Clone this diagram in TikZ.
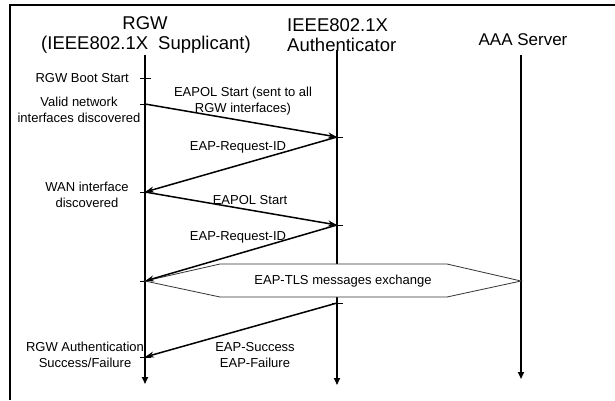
\documentclass[tikz,border=0pt]{standalone}
\usepackage{fontspec}
\setmainfont{Liberation Sans}
\usetikzlibrary{arrows.meta}
\begin{document}
\begin{tikzpicture}[x=1pt,y=-1pt,
  life/.style={line width=1.6pt,-{Triangle[length=7pt,width=6pt]}},
  msg/.style={line width=1.5pt,-{Stealth[length=9pt,width=6pt]}},
  tickmark/.style={line width=1pt},
  big/.style={font=\fontsize{18.5}{20}\selectfont, inner sep=0pt},
  small/.style={font=\fontsize{13}{16}\selectfont, inner sep=0pt, align=center},
  hexa/.style={line width=0.8pt, draw=black!80, fill=white}
]
\useasboundingbox (0,0) rectangle (615,400);
\draw[line width=2pt] (10,400) -- (10,5) -- (615,5);

% headers
\node[big] (rgw) at (145,23) {RGW};
\node[big] (sup) at (146,45) {(IEEE802.1X\hspace{10pt}Supplicant)};
\node[big, anchor=west] (ieee) at (287,25) {IEEE802.1X};
\node[big, anchor=west] (authn) at (287,45) {Authenticator};
\node[big, font=\fontsize{17}{19}\selectfont] (aaa) at (523,40) {AAA Server};

% lifeline coordinates
\coordinate (r0) at (145,55);
\coordinate (rend) at (145,384);
\coordinate (a0) at (337,50);
\coordinate (aend) at (337,385);
\coordinate (s0) at (521,55);
\coordinate (send) at (521,379);

\coordinate (rb) at (145,78);
\coordinate (rv) at (145,104);
\coordinate (rw) at (145,192);
\coordinate (rt) at (145,281);
\coordinate (rf) at (145,357);
\coordinate (a1) at (337,137);
\coordinate (a2) at (337,225);
\coordinate (a3) at (337,303);
\coordinate (st) at (521,281);

\draw[life] (r0) -- (rend);
\draw[life] (a0) -- (aend);
\draw[life] (s0) -- (send);

% ticks
\foreach \p in {rb,rv,rw,rt,rf}{
  \draw[tickmark] ([xshift=-5pt]\p) -- ([xshift=6pt]\p);
}
\foreach \p in {a1,a2,a3}{
  \draw[tickmark] ([xshift=-5pt]\p) -- ([xshift=6pt]\p);
}

% hexagon
\draw[hexa] (rt) -- (220,264) -- (447,264) -- (st) -- (447,297) -- (220,297) -- cycle;
\node[small] (tls) at (343,281) {EAP-TLS messages exchange};

% messages
\draw[msg] (rv) -- (a1);
\draw[msg] (a1) -- (rw);
\draw[msg] (rw) -- (a2);
\draw[msg] (a2) -- (rt);
\draw[msg] (a3) -- (rf);

% labels
\node[small, anchor=east] (boot) at (129,78) {RGW Boot Start};
\node[small] (valid) at (79,109.5) {Valid network\\interfaces discovered};
\node[small] (eapol1) at (243,101.5) {EAPOL Start (sent to all\\RGW interfaces)};
\node[small] (req1) at (238,147) {EAP-Request-ID};
\node[small] (wan) at (87,194.5) {WAN interface\\discovered};
\node[small] (eapol2) at (250,200) {EAPOL Start};
\node[small] (req2) at (238,237) {EAP-Request-ID};
\node[small] (rgwauth) at (85,355) {RGW Authentication\\Success/Failure};
\node[small] (succ) at (255,355) {EAP-Success\\EAP-Failure};
\end{tikzpicture}
\end{document}
